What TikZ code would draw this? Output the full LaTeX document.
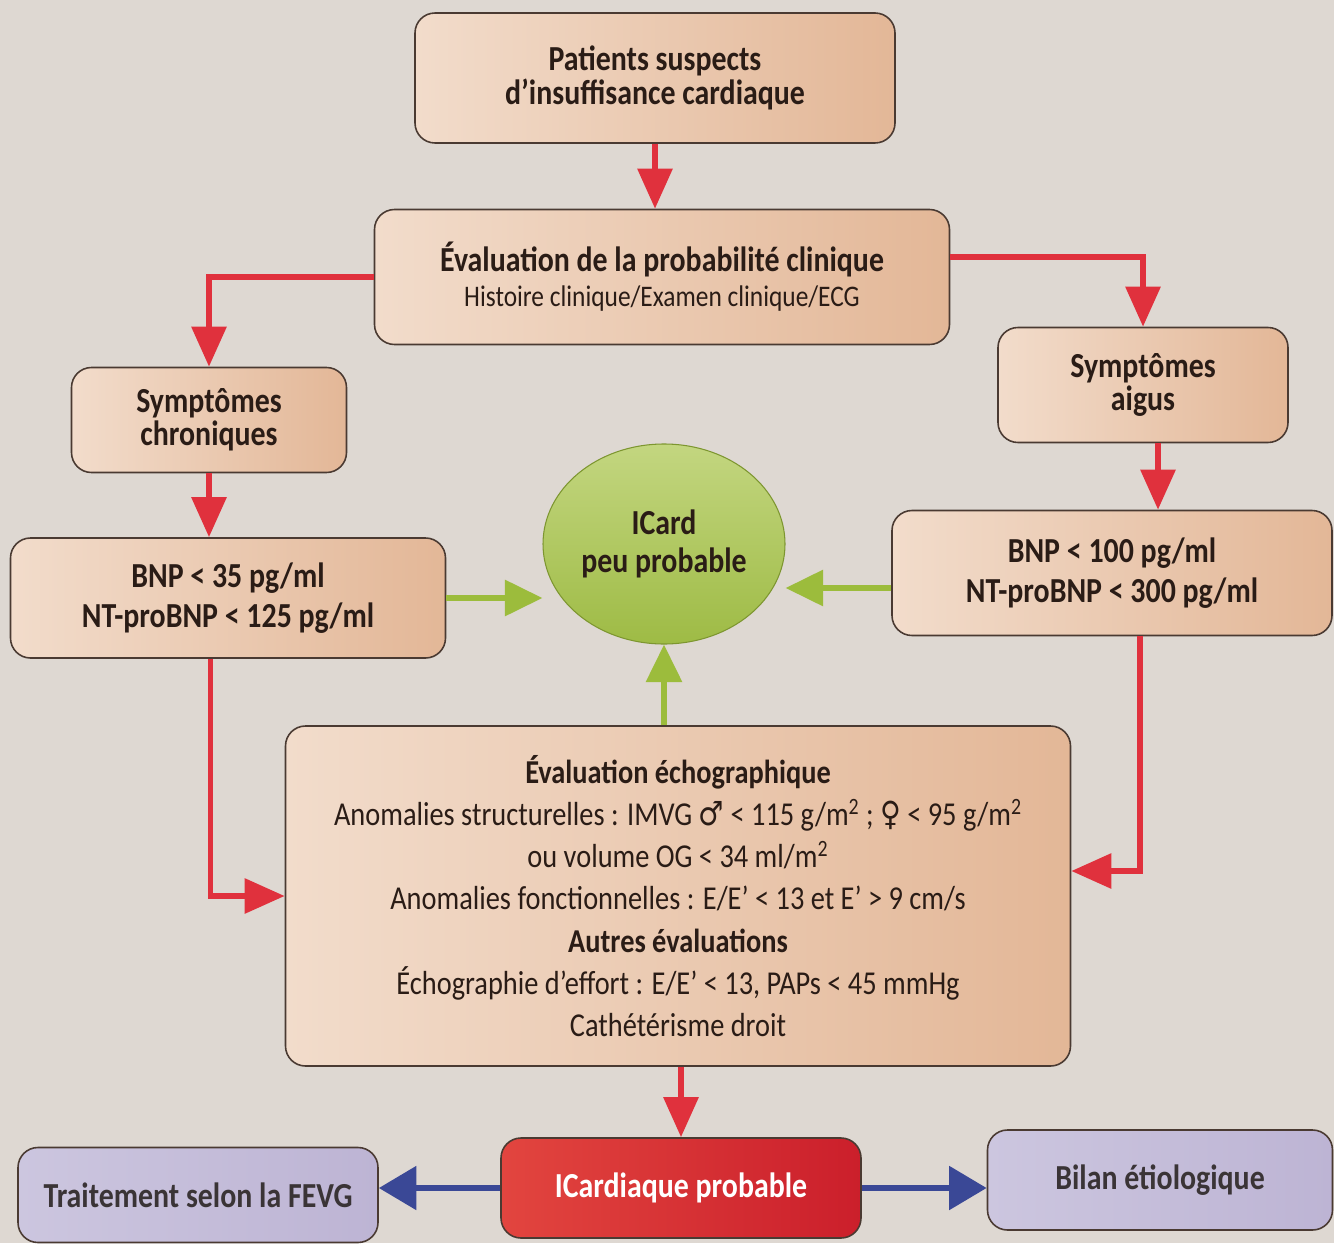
\documentclass[tikz,border=0pt]{standalone}
\usepackage{fontspec}
\setmainfont{Carlito}[FakeStretch=0.85]
\newfontfamily\symfont{DejaVu Sans}[FakeStretch=0.85]
\usepackage{xcolor}
\usetikzlibrary{positioning,arrows.meta,shapes.geometric}

\definecolor{bgcol}{HTML}{DED8D2}
\definecolor{peachL}{HTML}{F2DCCB}
\definecolor{peachR}{HTML}{E3B797}
\definecolor{boxline}{HTML}{4A3A32}
\definecolor{txt}{HTML}{2A1C16}
\definecolor{greytxt}{HTML}{3A3436}
\definecolor{arrred}{HTML}{E0313D}
\definecolor{arrgreen}{HTML}{9CBC3C}
\definecolor{arrblue}{HTML}{3A4896}
\definecolor{icardL}{HTML}{C3D680}
\definecolor{icardR}{HTML}{9EBB45}
\definecolor{probL}{HTML}{E2453F}
\definecolor{probR}{HTML}{CB1F2B}
\definecolor{lilacL}{HTML}{CCC6DF}
\definecolor{lilacR}{HTML}{BDB4D4}

\newcommand{\boxfont}{\fontsize{20}{19}\selectfont}
\newcommand{\bnpfont}{\fontsize{20}{23}\selectfont}
\newcommand{\echofont}{\fontsize{19}{24}\selectfont}

\begin{document}
\begin{tikzpicture}

		\tikzset{%
			box/.style      = {draw=boxline, line width=0.9pt, rounded corners=0.4cm,
				left color=peachL, right color=peachR, align=center, text=txt,
				font=\boxfont\bfseries},
			ovalbox/.style  = {ellipse, draw=arrgreen!80!black, line width=0.6pt,
				top color=icardL, bottom color=icardR, align=center, text=txt,
				font=\boxfont\bfseries, inner sep=0pt},
			redbox/.style   = {box, left color=probL, right color=probR, text=white},
			lilacbox/.style = {box, left color=lilacL, right color=lilacR, text=greytxt},
			redarrow/.style   = {draw=arrred, line width=3.4pt, -{Triangle[length=0.8cm,width=0.68cm]}},
			greenarrow/.style = {draw=arrgreen, line width=3.4pt, -{Triangle[length=0.75cm,width=0.7cm]}},
			bluearrow/.style  = {draw=arrblue, line width=3.8pt, -{Triangle[length=0.75cm,width=0.85cm]}}
		}

		% Hintergrund
		\fill[bgcol] (0,0) rectangle (26.68,-24.86);
		\useasboundingbox (0,0) rectangle (26.68,-24.86);

		\node[box, minimum width=9.6cm, minimum height=2.6cm] (patients) at (13.1,-1.56) {Patients suspects\\d’insuffisance cardiaque};
		\node[box, font=\bnpfont\bfseries, minimum width=11.5cm, minimum height=2.7cm] (proba) at (13.24,-5.54) {Évaluation de la probabilité clinique\\[-3pt]{\fontsize{17}{19}\selectfont\mdseries Histoire clinique/Examen clinique/ECG}};
		\node[box, minimum width=5.5cm, minimum height=2.1cm] (chron) at (4.18,-8.4) {Symptômes\\chroniques};
		\node[box, minimum width=5.8cm, minimum height=2.3cm] (aigus) at (22.86,-7.7) {Symptômes\\aigus};
		\node[box, font=\bnpfont\bfseries, minimum width=8.7cm, minimum height=2.4cm] (bnpL) at (4.56,-11.96) {BNP < 35 pg/ml\\NT-proBNP < 125 pg/ml};
		\node[ovalbox, minimum width=4.84cm, minimum height=4cm] (icard) at (13.28,-10.88) {ICard\\[3pt]peu probable};
		\node[box, font=\bnpfont\bfseries, minimum width=8.8cm, minimum height=2.5cm] (bnpR) at (22.24,-11.46) {BNP < 100 pg/ml\\NT-proBNP < 300 pg/ml};
		\node[box, font=\echofont, minimum width=15.7cm, minimum height=6.8cm] (echo) at (13.56,-17.92) {%
			\textbf{Évaluation échographique}\\
			Anomalies structurelles : IMVG {\symfont ♂} < 115 g/m\textsuperscript{2} ; {\symfont ♀} < 95 g/m\textsuperscript{2}\\
			ou volume OG < 34 ml/m\textsuperscript{2}\\
			Anomalies fonctionnelles : E/E’ < 13 et E’ > 9 cm/s\\
			\textbf{Autres évaluations}\\
			Échographie d’effort : E/E’ < 13, PAPs < 45 mmHg\\
			Cathétérisme droit};
		\node[redbox, minimum width=7.2cm, minimum height=2cm] (probable) at (13.62,-23.76) {ICardiaque probable};
		\node[lilacbox, minimum width=7.2cm, minimum height=1.9cm] (traitement) at (3.96,-23.9) {Traitement selon la FEVG};
		\node[lilacbox, minimum width=6.9cm, minimum height=2cm] (bilan) at (23.2,-23.6) {Bilan étiologique};

		% Pfeile
		\draw[redarrow] (patients.south) -- (patients.south |- proba.north);
		\draw[redarrow] (proba.west) -| (chron.north);
		\draw[redarrow] ([yshift=0.4cm]proba.east) -| (aigus.north);
		\draw[redarrow] (chron.south) -- (chron.south |- bnpL.north);
		\draw[redarrow] ([xshift=0.3cm]aigus.south) -- ([xshift=0.3cm]aigus.south |- bnpR.north);
		\draw[redarrow] ([xshift=-0.35cm]bnpL.south) |- (echo.west);
		\draw[redarrow] ([xshift=0.55cm]bnpR.south) |- ([yshift=0.5cm]echo.east);
		\draw[redarrow] (echo.south -| probable.north) -- (probable.north);

		\draw[greenarrow] (bnpL.east) -- (bnpL.east -| icard.west);
		\draw[greenarrow] ([yshift=-0.3cm]bnpR.west) -- ([yshift=-0.3cm]bnpR.west -| icard.east);
		\draw[greenarrow] (icard.south |- echo.north) -- (icard.south);

		\draw[bluearrow] (probable.west) -- (probable.west -| traitement.east);
		\draw[bluearrow] (probable.east) -- (probable.east -| bilan.west);
\end{tikzpicture}
\end{document}
